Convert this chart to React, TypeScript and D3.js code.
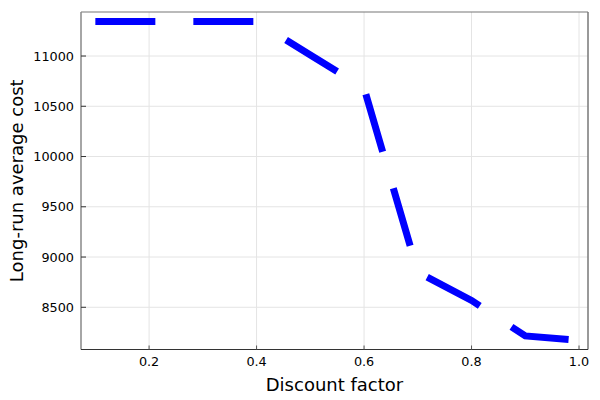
import React from "react";
import * as d3 from "d3";

const discount = [0.1, 0.2, 0.3, 0.4, 0.5, 0.6, 0.7, 0.8, 0.9, 0.99];
const avgCost = [11343, 11343, 11343, 11343, 11010, 10682, 8850, 8568, 8215, 8175];
const xTicks = [0.2, 0.4, 0.6, 0.8, 1.0];
const yTicks = [8500, 9000, 9500, 10000, 10500, 11000];
const xLabel = "Discount factor";
const yLabel = "Long-run average cost";

const W = 600, H = 400;
const L = 81, R = 588, T = 12, B = 349.5;
const FONT = "DejaVu Sans, sans-serif";

export default function App() {
  const xmin = d3.min(discount)!, xmax = d3.max(discount)!;
  const xp = (xmax - xmin) * 0.03;
  const ymin = d3.min(avgCost)!, ymax = d3.max(avgCost)!;
  const yp = (ymax - ymin) * 0.03;
  const x = d3.scaleLinear().domain([xmin - xp, xmax + xp]).range([L, R]);
  const y = d3.scaleLinear().domain([ymin - yp, ymax + yp]).range([B, T]);
  const pts: [number, number][] = discount.map((d, i) => [d, avgCost[i]]);
  const line = d3.line<[number, number]>().x(d => x(d[0])).y(d => y(d[1]));

  return (
    <svg width={W} height={H} style={{ position: "absolute", left: 0, top: 0, background: "#fff" }}>
      <rect x={0} y={0} width={W} height={H} fill="#fff" />
      {/* grid */}
      {xTicks.map(t => (
        <line key={"gx" + t} x1={x(t)} x2={x(t)} y1={T} y2={B} stroke="#e4e4e4" strokeWidth={1} />
      ))}
      {yTicks.map(t => (
        <line key={"gy" + t} x1={L} x2={R} y1={y(t)} y2={y(t)} stroke="#e4e4e4" strokeWidth={1} />
      ))}
      {/* frame */}
      <line x1={L} x2={R} y1={T} y2={T} stroke="#777" strokeWidth={1.2} />
      <line x1={R} x2={R} y1={T} y2={B} stroke="#777" strokeWidth={1.5} />
      <line x1={L} x2={L} y1={T} y2={B} stroke="#888" strokeWidth={1.5} />
      <line x1={L} x2={R} y1={B} y2={B} stroke="#333" strokeWidth={1.2} />
      {/* ticks */}
      {yTicks.map(t => (
        <line key={"ty" + t} x1={L} x2={L + 5} y1={y(t)} y2={y(t)} stroke="#333" strokeWidth={1} />
      ))}
      {xTicks.map(t => (
        <line key={"tx" + t} x1={x(t)} x2={x(t)} y1={B} y2={B - 4} stroke="#555" strokeWidth={1} />
      ))}
      {/* data */}
      <path d={line(pts)!} fill="none" stroke="#0000ff" strokeWidth={7} strokeDasharray="60 38" strokeLinecap="butt" strokeLinejoin="miter" />
      {/* tick labels */}
      {xTicks.map(t => (
        <text key={"lx" + t} x={x(t)} y={366} textAnchor="middle" fontFamily={FONT} fontSize={12.8} fill="#000">
          {t.toFixed(1)}
        </text>
      ))}
      {yTicks.map(t => (
        <text key={"ly" + t} x={74} y={y(t) + 4.6} textAnchor="end" fontFamily={FONT} fontSize={12.8} fill="#000">
          {t}
        </text>
      ))}
      {/* axis labels */}
      <text x={(L + R) / 2} y={391} textAnchor="middle" fontFamily={FONT} fontSize={18} fill="#000">
        {xLabel}
      </text>
      <text transform={`translate(22.5, ${(T + B) / 2}) rotate(-90)`} textAnchor="middle" fontFamily={FONT} fontSize={18} fill="#000">
        {yLabel}
      </text>
    </svg>
  );
}
